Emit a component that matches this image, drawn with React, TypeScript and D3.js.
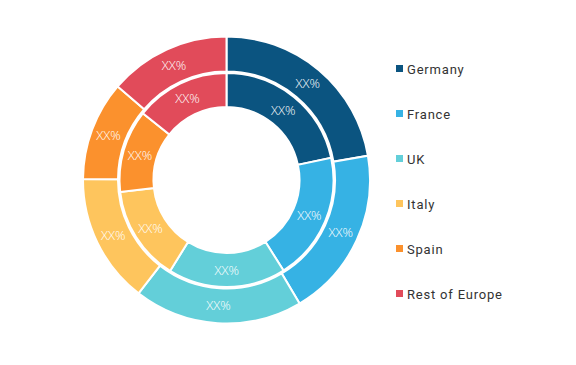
import * as d3 from 'd3';

const regions = ['Germany', 'France', 'UK', 'Italy', 'Spain', 'Rest of Europe'];
const outerShares = [22.3, 19.2, 19.0, 14.6, 11.2, 13.7];
const innerShares = [21.7, 19.4, 17.8, 14.4, 12.5, 14.3];
const colors = ['#0b5480', '#36b2e4', '#63cfd9', '#fec55d', '#fb912d', '#e14b5a'];
const labelText = 'XX%';

const width = 576;
const height = 365;
const cx = 226.5;
const cy = 180;

export default function App() {
  const pie = d3
    .pie<number>()
    .sort(null)
    .value((d) => d);

  const outerArc = d3.arc<d3.PieArcDatum<number>>().innerRadius(108.5).outerRadius(143.5);
  const innerArc = d3.arc<d3.PieArcDatum<number>>().innerRadius(73).outerRadius(107);

  const rings = [
    { arcs: pie(outerShares), gen: outerArc, key: 'outer' },
    { arcs: pie(innerShares), gen: innerArc, key: 'inner' },
  ];

  const legendY = d3
    .scalePoint<string>()
    .domain(regions)
    .range([69, 294]);

  return (
    <svg width={width} height={height} style={{ position: 'absolute', left: 0, top: 0, background: '#fff' }}>
      <g transform={`translate(${cx},${cy})`}>
        {rings.map((ring) =>
          ring.arcs.map((a, i) => (
            <path
              key={`${ring.key}-${i}`}
              d={ring.gen(a) || ''}
              fill={colors[i]}
              stroke="#fff"
              strokeWidth={2}
            />
          ))
        )}
        {rings.map((ring) =>
          ring.arcs.map((a, i) => {
            const [x, y] = ring.gen.centroid(a);
            return (
              <text
                key={`lbl-${ring.key}-${i}`}
                x={x}
                y={y}
                dy="0.35em"
                textAnchor="middle"
                fill="#fff"
                fontSize={13}
                fontWeight={300}
                fontFamily="'Open Sans', sans-serif"
              >
                {labelText}
              </text>
            );
          })
        )}
      </g>
      <g>
        {regions.map((r, i) => (
          <g key={r} transform={`translate(396,${legendY(r)})`}>
            <rect x={0} y={-4} width={7} height={7} fill={colors[i]} />
            <text
              x={11}
              y={0}
              dy="0.35em"
              fontSize={13}
              fill="#333"
              letterSpacing={0.8}
              fontFamily="Roboto, 'Noto Sans', sans-serif"
            >
              {r}
            </text>
          </g>
        ))}
      </g>
    </svg>
  );
}
